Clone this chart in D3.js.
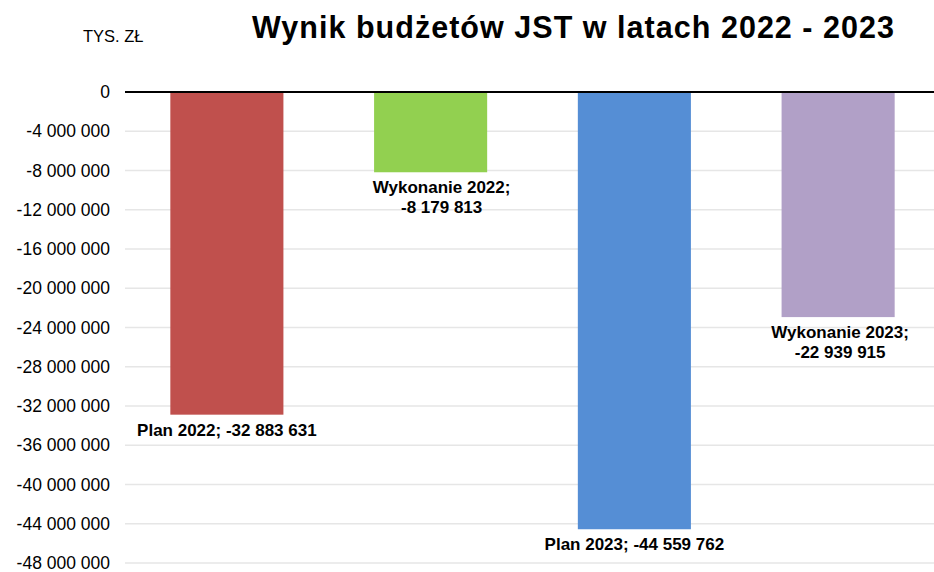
<!doctype html>
<html>
<head>
<meta charset="utf-8">
<style>
    body { margin: 0; background: #fff; }
    svg text { font-family: "Liberation Sans", Arial, sans-serif; fill: #000; }
</style>
<script src="https://d3js.org/d3.v7.min.js"></script>
</head>
<body>
<svg width="934" height="572" class="svg1"></svg>
<script>
    var categories = ["Plan 2022", "Wykonanie 2022", "Plan 2023", "Wykonanie 2023"];
    var values = [-32883631, -8179813, -44559762, -22939915];
    var colors = ["#C0504D", "#92D050", "#558ED5", "#B1A0C7"];
    var yTicks = [0, -4000000, -8000000, -12000000, -16000000, -20000000, -24000000,
                  -28000000, -32000000, -36000000, -40000000, -44000000, -48000000];
    // Excel labels: wrapped ones and a hand-moved one
    var labelWrap = [false, true, false, true];
    var labelShift = [0, 11, 0, 2];

    var data = categories.map(function(c, i) {
        return {name: c, value: values[i], color: colors[i], wrap: labelWrap[i], dx: labelShift[i]};
    });

    var pl = d3.formatLocale({decimal: ",", thousands: " ", grouping: [3], currency: ["", ""], minus: "-"});
    var fmt = pl.format(",d");

    var svg = d3.select(".svg1");

    var x = d3.scaleBand()
        .domain(categories)
        .range([125, 940])
        .paddingInner(0.445)
        .paddingOuter(0.2225);

    var y = d3.scaleLinear()
        .domain([-48000000, 0])
        .range([563, 92]);

    // title
    svg.append("text")
       .attr("x", 252)
       .attr("y", 38)
       .attr("font-size", "30.5px")
       .attr("font-weight", "bold")
       .attr("textLength", 642)
       .attr("lengthAdjust", "spacing")
       .text("Wynik budżetów JST w latach 2022 - 2023");

    svg.append("text")
       .attr("x", 83)
       .attr("y", 42)
       .attr("font-size", "16.5px")
       .text("TYS. ZŁ");

    // gridlines
    svg.append("g")
       .selectAll("line")
       .data(yTicks.filter(function(d) { return d !== 0; }))
       .enter().append("line")
       .attr("x1", 125)
       .attr("x2", 934)
       .attr("y1", function(d) { return y(d); })
       .attr("y2", function(d) { return y(d); })
       .attr("stroke", "#e6e6e6")
       .attr("stroke-width", 1.3);

    var yAxis = svg.append("g")
       .attr("transform", "translate(125,0)")
       .call(d3.axisLeft(y).tickValues(yTicks).tickSize(0).tickPadding(15).tickFormat(fmt));
    yAxis.select(".domain").remove();
    yAxis.selectAll("text")
         .attr("font-size", "17.5px")
         .attr("fill", "#000")
         .style("font-family", "'Liberation Sans', Arial, sans-serif");

    // bars
    svg.selectAll(".bar")
       .data(data)
       .enter().append("rect")
       .attr("class", "bar")
       .attr("x", function(d) { return x(d.name); })
       .attr("width", x.bandwidth())
       .attr("y", y(0))
       .attr("height", function(d) { return y(d.value) - y(0); })
       .attr("fill", function(d) { return d.color; });

    // zero line
    svg.append("line")
       .attr("x1", 125)
       .attr("x2", 934)
       .attr("y1", y(0))
       .attr("y2", y(0))
       .attr("stroke", "#000")
       .attr("stroke-width", 2.2);

    // data labels
    var labels = svg.selectAll(".lbl")
       .data(data)
       .enter().append("text")
       .attr("class", "lbl")
       .attr("text-anchor", "middle")
       .attr("font-size", "17px")
       .attr("font-weight", "bold");

    labels.each(function(d) {
        var t = d3.select(this);
        var cx = x(d.name) + x.bandwidth() / 2 + d.dx;
        var base = y(d.value) + 21;
        if (d.wrap) {
            t.append("tspan").attr("x", cx).attr("y", base).text(d.name + ";");
            t.append("tspan").attr("x", cx).attr("y", base + 20).text(fmt(d.value));
        } else {
            t.append("tspan").attr("x", cx).attr("y", base).text(d.name + "; " + fmt(d.value));
        }
    });
</script>
</body>
</html>
